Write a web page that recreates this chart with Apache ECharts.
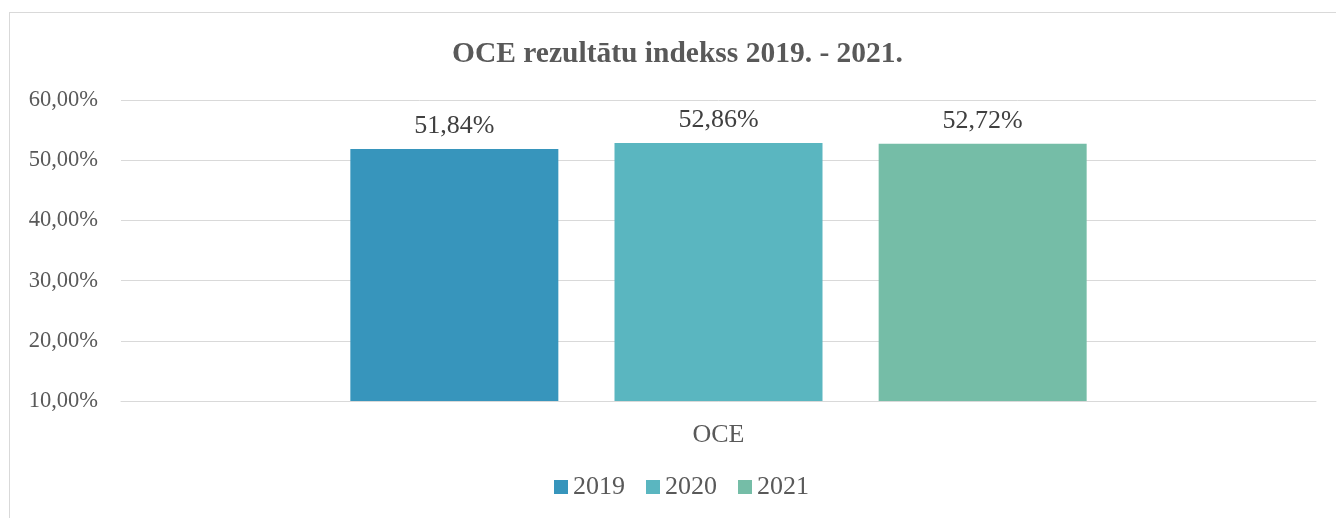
<!DOCTYPE html>
<html><head><meta charset="utf-8">
<script src="https://cdn.jsdelivr.net/npm/echarts@6/dist/echarts.min.js"></script>
<style>
html,body{margin:0;padding:0;background:#fff;}
#frame{position:absolute;left:9px;top:12px;width:1340px;height:520px;border-left:1px solid #d9d9d9;border-top:1px solid #d9d9d9;}
#c{position:absolute;left:0;top:0;width:1336px;height:518px;}
</style>
</head><body>
<div id="frame"></div>
<div id="c"></div>
<script>
const categories = ['OCE'];
const seriesNames = ['2019', '2020', '2021'];
const values2019 = [51.84];
const values2020 = [52.86];
const values2021 = [52.72];
const yTicks = [10, 20, 30, 40, 50, 60];
const colors = ['#3795BC', '#5AB6C0', '#75BDA7'];

const fmt = v => v.toFixed(2).replace('.', ',') + '%';
const allValues = [values2019, values2020, values2021];
const font = '"Liberation Serif", "Times New Roman", serif';

const chart = echarts.init(document.getElementById('c'), null, {renderer: 'canvas'});
chart.setOption({
  animation: false,
  textStyle: {fontFamily: font},
  title: {
    text: 'OCE rezultātu indekss 2019. - 2021.',
    left: 447, top: 34,
    textStyle: {fontFamily: font, fontSize: 29.5, fontWeight: 'bold', color: '#595959'}
  },
  legend: {
    top: 469, left: 549,
    itemWidth: 14, itemHeight: 14, itemGap: 21,
    icon: 'rect',
    textStyle: {fontFamily: font, fontSize: 26, color: '#595959'},
    data: seriesNames
  },
  grid: {left: 121, right: 20, top: 100, bottom: 117, containLabel: false},
  xAxis: {
    type: 'category', data: categories,
    axisLine: {lineStyle: {color: '#d9d9d9', width: 1}},
    axisTick: {show: false},
    axisLabel: {fontFamily: font, fontSize: 26, color: '#595959', margin: 21}
  },
  yAxis: {
    type: 'value', min: yTicks[0], max: yTicks[yTicks.length - 1], interval: 10,
    axisLine: {show: false}, axisTick: {show: false},
    splitLine: {lineStyle: {color: '#d9d9d9', width: 1}},
    axisLabel: {fontFamily: font, fontSize: 22.5, color: '#595959', margin: 23, formatter: v => fmt(v)}
  },
  series: seriesNames.map((n, i) => ({
    name: n, type: 'bar', data: allValues[i],
    barWidth: 208, barGap: '27%',
    itemStyle: {color: colors[i]},
    label: {show: true, position: 'top', distance: 10, formatter: p => fmt(p.value),
      fontFamily: font, fontSize: 26, color: '#404040'}
  }))
});
</script>
</body></html>
